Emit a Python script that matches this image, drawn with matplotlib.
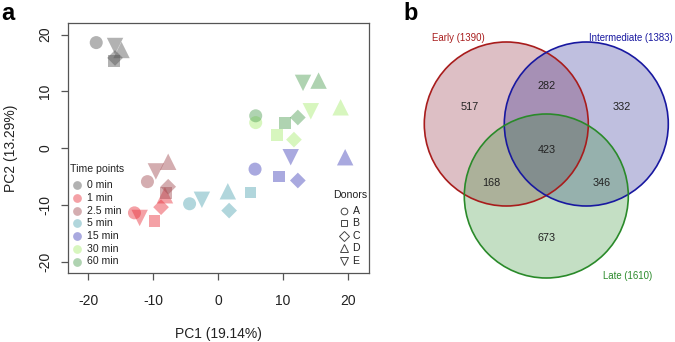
import matplotlib
matplotlib.use("Agg")
import matplotlib.pyplot as plt
from matplotlib.patches import Circle

plt.rcParams['font.family'] = ['Liberation Sans', 'DejaVu Sans']
plt.rcParams['axes.unicode_minus'] = False

# ---------------- Data: PCA ----------------
time_points = ["0 min", "1 min", "2.5 min", "5 min", "15 min", "30 min", "60 min"]
donors = ["A", "B", "C", "D", "E"]
# PC1 / PC2 per time point, donor order A..E
pc1_0min = [-18.8, -16.0, -15.9, -14.9, -15.9]
pc2_0min = [18.6, 15.3, 15.9, 17.3, 18.0]
pc1_1min = [-12.9, -9.8, -8.8, -8.2, -12.1]
pc2_1min = [-11.4, -12.8, -10.4, -8.3, -12.3]
pc1_2p5min = [-10.9, -8.0, -7.7, -7.7, -9.6]
pc2_2p5min = [-5.9, -7.9, -6.8, -2.4, -4.1]
pc1_5min = [-4.4, 5.0, 1.7, 1.5, -2.5]
pc2_5min = [-9.8, -7.8, -11.0, -7.6, -9.1]
pc1_15min = [5.7, 9.4, 12.3, 19.6, 11.2]
pc2_15min = [-3.7, -5.0, -5.7, -1.6, -1.6]
pc1_30min = [5.8, 9.1, 11.7, 18.9, 14.3]
pc2_30min = [4.5, 2.3, 1.5, 7.2, 6.5]
pc1_60min = [5.8, 10.3, 12.3, 15.5, 13.1]
pc2_60min = [5.7, 4.5, 5.4, 11.9, 11.5]

pc1 = [pc1_0min, pc1_1min, pc1_2p5min, pc1_5min, pc1_15min, pc1_30min, pc1_60min]
pc2 = [pc2_0min, pc2_1min, pc2_2p5min, pc2_5min, pc2_15min, pc2_30min, pc2_60min]

time_colors = ["#555555", "#e8303a", "#a04a50", "#52a6b3", "#4040b8", "#a8ec70", "#4e9e52"]
donor_markers = ["o", "s", "D", "^", "v"]
donor_sizes = [88, 72, 64, 140, 140]

pc1_label = "PC1 (19.14%)"
pc2_label = "PC2 (13.29%)"
x_ticks = [-20, -10, 0, 10, 20]
y_ticks = [-20, -10, 0, 10, 20]

# ---------------- Data: Venn ----------------
set_names = ["Early (1390)", "Intermediate (1383)", "Late (1610)"]
venn_counts = {"E": 517, "EI": 282, "I": 332, "EIL": 423, "EL": 168, "IL": 346, "L": 673}

# ---------------- Figure ----------------
W, H = 675, 342
fig = plt.figure(figsize=(W / 100, H / 100), dpi=100)

AX_L, AX_R, AX_T, AX_B = 67.7, 368.5, 23.3, 273.0
ax = fig.add_axes([AX_L / W, 1 - AX_B / H, (AX_R - AX_L) / W, (AX_B - AX_T) / H])


def afx(px):
    return (px - AX_L) / (AX_R - AX_L)


def afy(py):
    return (AX_B - py) / (AX_B - AX_T)


for ti in range(len(time_points)):
    for di in range(len(donors)):
        ax.scatter(pc1[ti][di], pc2[ti][di], marker=donor_markers[di], s=donor_sizes[di],
                   color=time_colors[ti], alpha=0.45, edgecolors="none", zorder=3)
ax.set_xlim(-23.2, 23.2)
ax.set_ylim(-22.0, 22.0)
ax.set_xticks(x_ticks)
ax.set_yticks(y_ticks)
for sp in ax.spines.values():
    sp.set_color("#555555")
    sp.set_linewidth(0.9)
ax.tick_params(axis="both", direction="out", length=5, width=0.9, color="#555555",
               labelsize=10, labelcolor="#222222")
ax.tick_params(axis="x", pad=10)
ax.tick_params(axis="y", pad=6)
for lab in ax.get_yticklabels():
    lab.set_rotation(90)
    lab.set_va("center")
ax.set_xlabel(pc1_label, fontsize=10, labelpad=13.5, color="#222222")
ax.set_ylabel(pc2_label, fontsize=10, labelpad=14.5, color="#222222")

# Time points legend (drawn manually in axes coordinates)
ax.text(afx(70), afy(168.5), "Time points", transform=ax.transAxes, fontsize=7.6,
        ha="left", va="center", color="#222222")
for i, (name, c) in enumerate(zip(time_points, time_colors)):
    py = 185.0 + i * 12.75
    ax.plot([afx(77.3)], [afy(py)], transform=ax.transAxes, marker="o", markersize=6.3,
            markerfacecolor=c, markeredgecolor="none", alpha=0.45, linestyle="none",
            clip_on=False)
    ax.text(afx(87), afy(py), name, transform=ax.transAxes, fontsize=7.6,
            ha="left", va="center", color="#222222")

# Donors legend
ax.text(afx(333), afy(195), "Donors", transform=ax.transAxes, fontsize=7.6,
        ha="left", va="center", color="#222222")
for i, (name, m) in enumerate(zip(donors, donor_markers)):
    py = 211.0 + i * 12.4
    ax.plot([afx(343.7)], [afy(py)], transform=ax.transAxes, marker=m,
            markersize=4.8 if m in ("o", "s", "D") else 5.6,
            markerfacecolor="none", markeredgecolor="#444444", markeredgewidth=0.7,
            linestyle="none", clip_on=False)
    ax.text(afx(352.5), afy(py), name, transform=ax.transAxes, fontsize=7.6,
            ha="left", va="center", color="#222222")

fig.text(1 / W, 1 - 13 / H, "a", fontsize=17, fontweight="bold", va="center", ha="left")
fig.text(403 / W, 1 - 13 / H, "b", fontsize=17, fontweight="bold", va="center", ha="left")

# ---------------- Venn ----------------
axv = fig.add_axes([400 / W, 0, 275 / W, 1])
axv.set_xlim(400, 675)
axv.set_ylim(342, 0)
axv.axis("off")
r = 82
centers = [(506.3, 124), (586.3, 124), (546.3, 196)]
fills = ["#82142a", "#14148c", "#288c28"]
edges = ["#a81c1c", "#1818a0", "#2a8a2a"]
for (cx, cy), fc in zip(centers, fills):
    axv.add_patch(Circle((cx, cy), r, facecolor=fc, alpha=0.27, edgecolor="none"))
for (cx, cy), ec in zip(centers, edges):
    axv.add_patch(Circle((cx, cy), r, facecolor="none", edgecolor=ec, linewidth=1.2))

label_pos = {"E": (470, 107), "EI": (547, 86), "I": (622, 107), "EIL": (547, 150),
             "EL": (491, 183), "IL": (602, 183), "L": (547, 238)}
for k, v in venn_counts.items():
    x, y = label_pos[k]
    axv.text(x, y, str(v), ha="center", va="center", fontsize=7.8, color="#222222")

axv.text(458, 38, set_names[0], ha="center", va="center", fontsize=6.9, color="#a81c1c")
axv.text(631, 38, set_names[1], ha="center", va="center", fontsize=6.9, color="#1818a0")
axv.text(628, 276, set_names[2], ha="center", va="center", fontsize=6.9, color="#2a8a2a")

fig.savefig("out.png", dpi=100)
